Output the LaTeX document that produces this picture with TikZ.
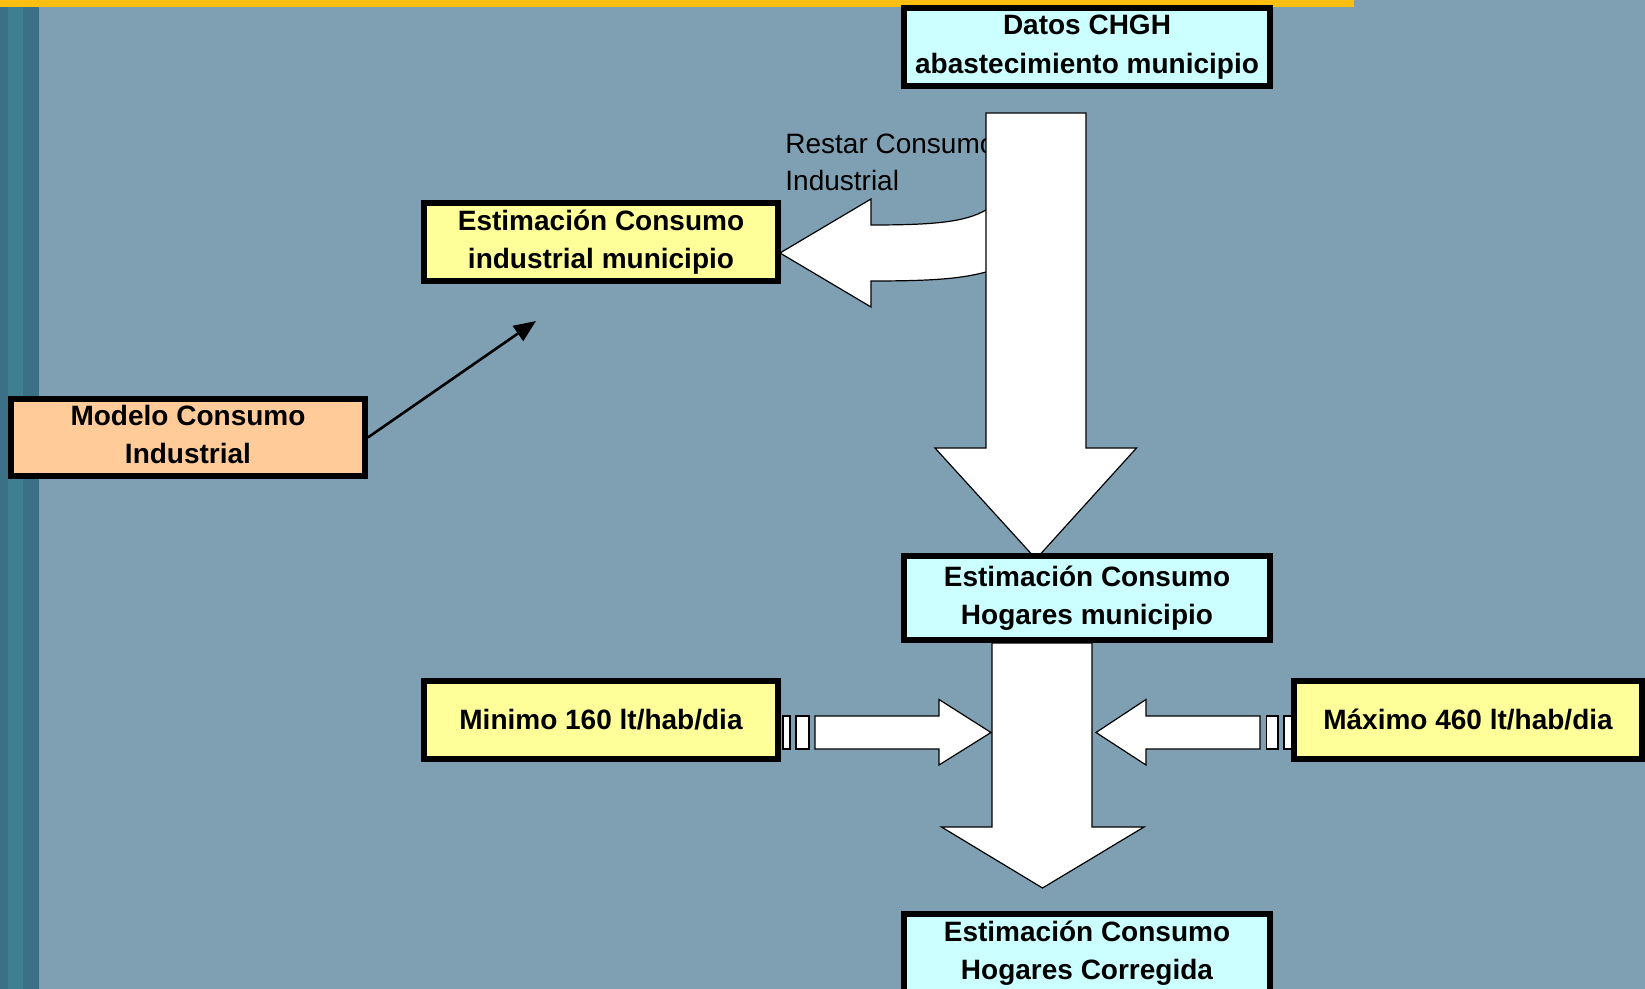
\documentclass[tikz,border=0pt]{standalone}
\usepackage{fontspec}
\setmainfont{Liberation Sans}
\usetikzlibrary{arrows.meta}
\definecolor{bgcol}{HTML}{7FA0B2}
\definecolor{stripA}{HTML}{3B7087}
\definecolor{stripB}{HTML}{407E92}
\definecolor{topbar}{HTML}{FFBF10}
\definecolor{cyanfill}{HTML}{CCFFFF}
\definecolor{yelfill}{HTML}{FFFF99}
\definecolor{orafill}{HTML}{FFCC99}
\pgfdeclarelayer{back}
\pgfsetlayers{back,main}
\begin{document}
\begin{tikzpicture}[x=0.5pt,y=-0.5pt,
  box/.style={draw=black,line width=2.85pt,inner sep=0pt,align=center,
    font=\fontsize{14}{19.25}\selectfont\bfseries},
  blockarrow/.style={draw=black,fill=white,line width=0.6pt,line join=miter},
  lbl/.style={inner sep=0pt,align=left,font=\fontsize{14}{18.8}\selectfont}
]
\useasboundingbox (0,0) rectangle (1645,989);

% boxes
\node[box,fill=cyanfill,minimum width=183pt,minimum height=39pt] (datos) at (1087,47) {Datos CHGH\\abastecimiento municipio};
\node[box,fill=yelfill,minimum width=177pt,minimum height=39pt] (indmun) at (601,242) {Estimación Consumo\\industrial municipio};
\node[box,fill=orafill,minimum width=177pt,minimum height=38.5pt,text depth=3pt] (modelo) at (188,437.5) {Modelo Consumo\\Industrial};
\node[box,fill=cyanfill,minimum width=183pt,minimum height=42pt] (hogmun) at (1087,598) {Estimación Consumo\\Hogares municipio};
\node[box,fill=yelfill,minimum width=177pt,minimum height=39pt] (minimo) at (601,720) {Minimo 160 lt/hab/dia};
\node[box,fill=yelfill,minimum width=174pt,minimum height=39pt] (maximo) at (1468,720) {Máximo 460 lt/hab/dia};
\node[box,fill=cyanfill,minimum width=183pt,minimum height=39pt] (correg) at (1087,953) {Estimación Consumo\\Hogares Corregida};

\coordinate (tgt) at (536,321);

\begin{pgfonlayer}{back}
  \fill[bgcol] (0,0) rectangle (1645,989);
  \fill[stripA] (0,0) rectangle (8,989);
  \fill[stripB] (8,0) rectangle (23,989);
  \fill[stripA] (23,0) rectangle (39,989);
  \fill[topbar] (0,0) rectangle (1354,7);

  % label behind the big shaft
  \node[lbl,anchor=base west] (restar) at (785,190.7) {Restar Consumo\\Industrial};

  % curved arrow to industrial box
  \draw[blockarrow] (780,253) -- (871,199) -- (871,225)
     .. controls (935,225) and (965,222) .. (986,210) -- (1000,210) -- (1000,272) -- (986,272)
     .. controls (960,279) and (930,281) .. (871,281) -- (871,307) -- cycle;

  % big down arrow from datos
  \draw[blockarrow] (986,113) -- (1086,113) -- (1086,448) -- (1136.5,448) -- (1036,559) -- (935,448) -- (986,448) -- cycle;

  % big down arrow from hogares
  \draw[blockarrow] (992,643) -- (1092,643) -- (1092,827) -- (1144,827) -- (1042.5,888) -- (941.5,827) -- (992,827) -- cycle;

  % left arrow (pointing right)
  \draw[blockarrow] (783,716) rectangle (790,749);
  \draw[blockarrow] (796,716) rectangle (809,749);
  \draw[blockarrow] (815,716) -- (939,716) -- (939,699.5) -- (991,732.5) -- (939,765) -- (939,749) -- (815,749) -- cycle;

  % right arrow (pointing left)
  \draw[blockarrow] (1096,732.5) -- (1146,699.5) -- (1146,716) -- (1260,716) -- (1260,749) -- (1146,749) -- (1146,765) -- cycle;
  \draw[blockarrow] (1266.5,716) rectangle (1278,749);
  \draw[blockarrow] (1284,716) rectangle (1292,749);

  % thin arrow
  \draw[line width=1.3pt,-{Triangle[length=11pt,width=9pt]}] (modelo.east) -- (tgt);
\end{pgfonlayer}
\end{tikzpicture}
\end{document}
